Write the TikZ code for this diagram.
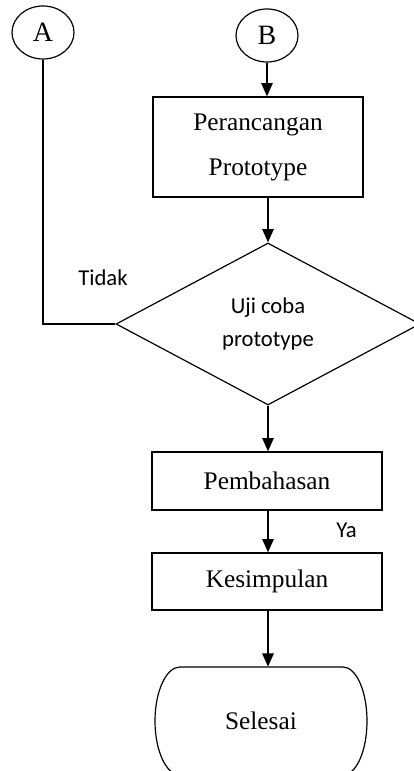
\documentclass[tikz,border=0pt]{standalone}
\usepackage{fontspec}
\setmainfont{Liberation Serif}
\newfontfamily\calib{Carlito}
\usetikzlibrary{shapes.geometric,arrows.meta}
\begin{document}
\begin{tikzpicture}[x=0.75pt,y=0.75pt,
  box/.style={draw,line width=0.9pt,inner sep=0pt,font=\fontsize{19}{33.75}\selectfont,align=center},
  conn/.style={draw,line width=0.9pt,ellipse,inner sep=0pt,minimum width=62*0.75pt,minimum height=53*0.75pt,font=\fontsize{21}{24}\selectfont},
  flow/.style={line width=1.3pt,-{Triangle[length=10pt,width=8.5pt]}},
  lbl/.style={font=\calib\fontsize{17}{20}\selectfont,inner sep=0pt}]
\useasboundingbox (0,0) rectangle (414,771);
\node[conn] (A) at (43,738.5) {A};
\node[conn] (B) at (267,735.5) {B};
\node[box,minimum width=210*0.75pt,minimum height=100*0.75pt] (P) at (258,624) {Perancangan\\Prototype};
\node[draw,line width=0.9pt,diamond,inner sep=0pt,minimum width=304*0.75pt,minimum height=162*0.75pt,align=center,font=\calib\fontsize{17}{24.75}\selectfont] (D) at (268,447) {Uji coba\\prototype};
\node[box,minimum width=230*0.75pt,minimum height=58*0.75pt] (Pb) at (267,290) {Pembahasan};
\node[box,minimum width=230*0.75pt,minimum height=57*0.75pt] (K) at (267,189.5) {Kesimpulan};
\node[inner sep=0pt,minimum width=212*0.75pt,minimum height=108*0.75pt,font=\fontsize{19}{22}\selectfont] (S) at (261,50) {Selesai\hspace{10.5pt}};
\draw[line width=0.9pt] (343,104) arc[start angle=90,end angle=-90,x radius=24,y radius=54] -- (180,-4) arc[start angle=270,end angle=90,x radius=25,y radius=54] -- cycle;
\node[lbl] (T) at (103,493) {Tidak};
\node[lbl] (Y) at (346.5,241) {Ya};
\draw[flow] (B.south) -- (B.south |- P.north);
\draw[flow] (P.south -| D.north) -- (D.north);
\draw[flow] (D.south) -- (D.south |- Pb.north);
\draw[flow] (Pb.south -| D.south) -- (D.south |- K.north);
\draw[flow] (K.south -| D.south) -- (D.south |- S.north);
\draw[line width=0.9pt] (A.south) -- (A.south |- D.west) -- (D.west);
\end{tikzpicture}
\end{document}
